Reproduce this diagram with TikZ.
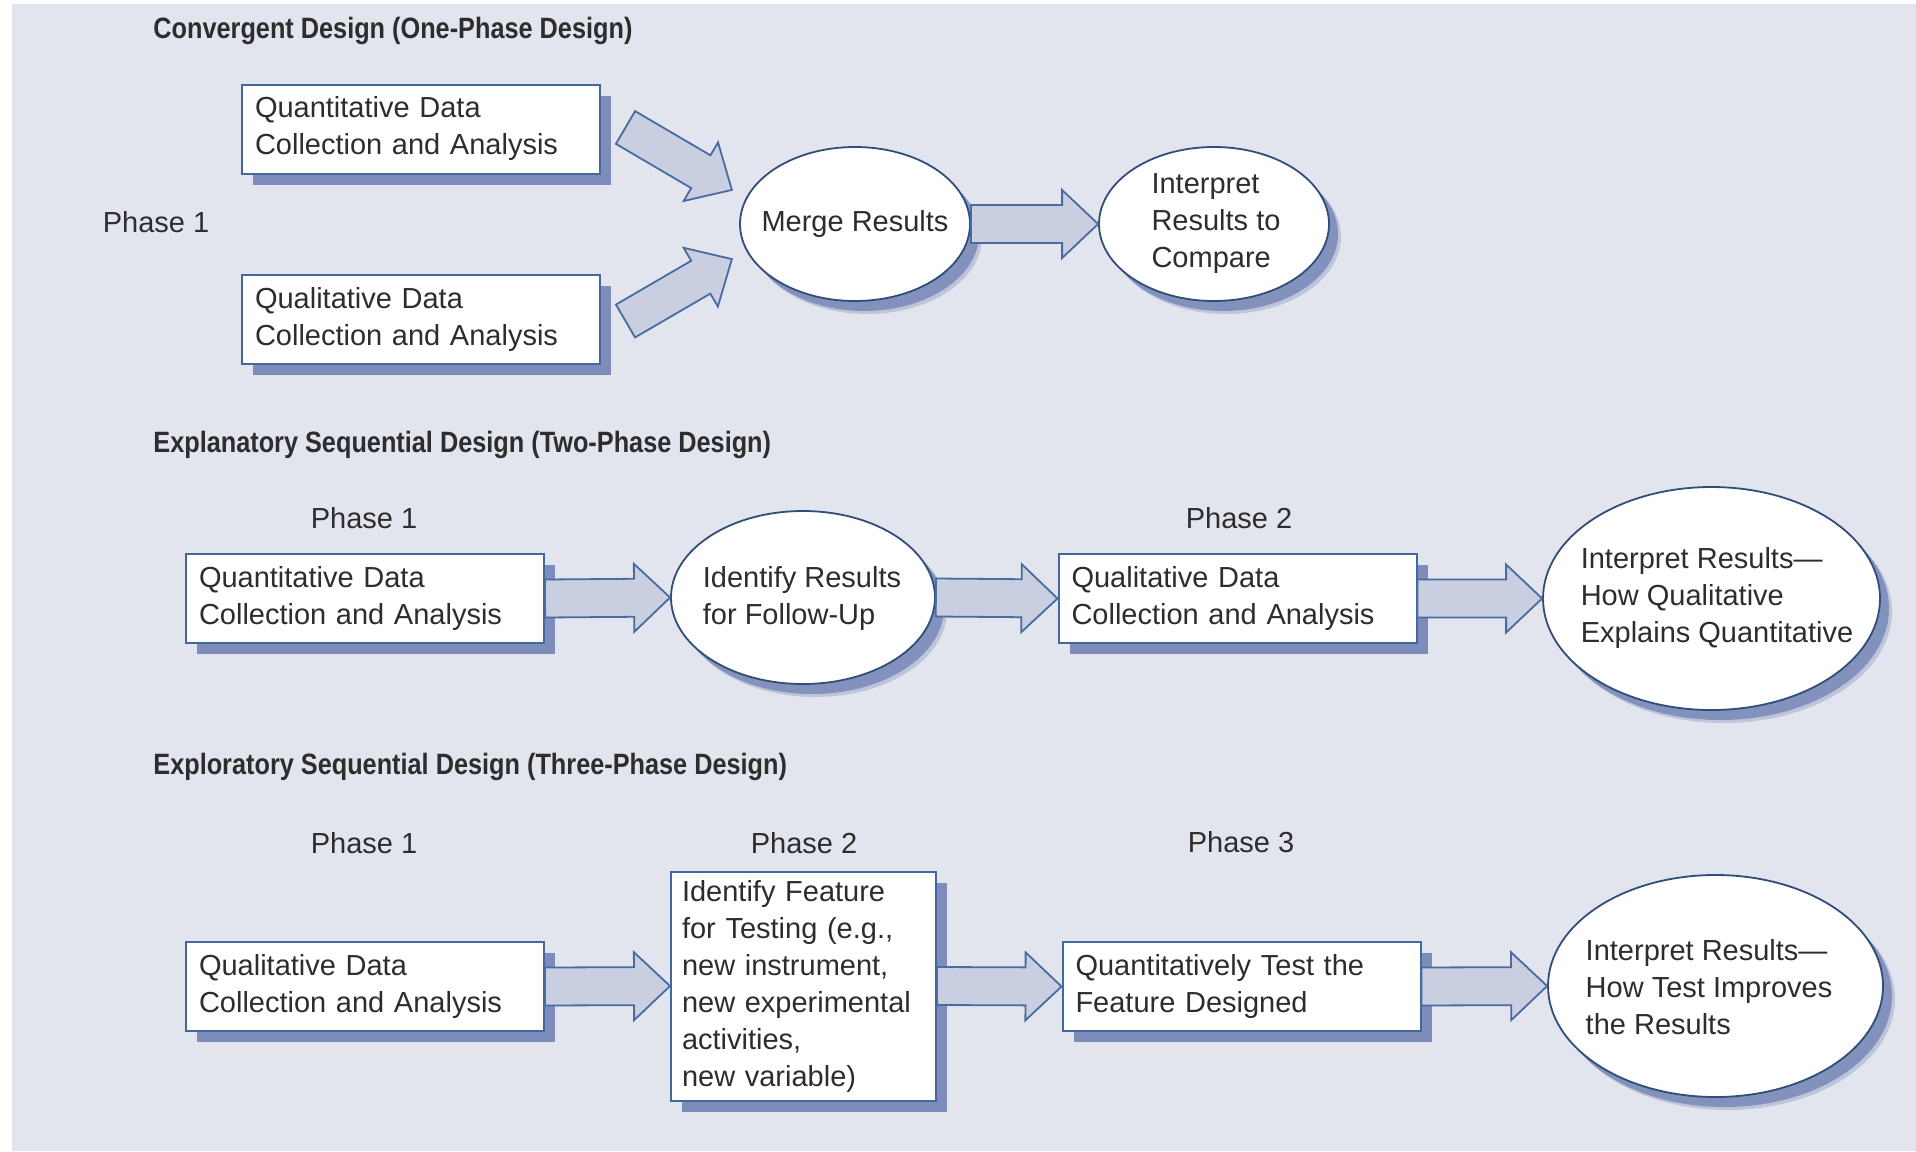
\documentclass[tikz,border=0pt]{standalone}
\usepackage{fontspec}
\setmainfont{Liberation Sans}
\newfontfamily\titlefont{Liberation Sans}[FakeStretch=0.86]
\usetikzlibrary{shapes.geometric,calc,shadows}
\definecolor{bgc}{RGB}{226,229,238}
\definecolor{boxc}{RGB}{66,104,156}
\definecolor{ellc}{RGB}{48,78,120}
\definecolor{shadowc}{RGB}{125,140,186}
\definecolor{arrfill}{RGB}{201,206,225}
\definecolor{arrline}{RGB}{72,108,160}
\definecolor{textc}{RGB}{45,45,45}
\tikzset{
  every node/.style={text=textc, font=\fontsize{14.5pt}{18.5pt}\selectfont},
  titlesty/.style={anchor=west, inner sep=0pt, font=\titlefont\fontsize{14.7pt}{17pt}\selectfont\bfseries},
  phaselbl/.style={inner sep=0pt},
  boxsty/.style={rectangle, draw=boxc, line width=1pt, fill=white, align=left,
    inner xsep=6.5pt, inner ysep=0pt, text width=166pt, minimum height=44.5pt,
    drop shadow={shadow xshift=5.5pt, shadow yshift=-5.5pt, opacity=1, fill=shadowc, draw=none}},
  ellsty/.style={ellipse, draw=ellc, line width=0.9pt, fill=white, inner sep=0pt,
    drop shadow={shadow xshift=6pt, shadow yshift=-6.5pt, opacity=0.35, fill=shadowc, draw=none},
    drop shadow={shadow xshift=4.5pt, shadow yshift=-5pt, opacity=0.9, fill=shadowc, draw=none}},
  etext/.style={align=left, inner sep=0pt},
  barrowsty/.style={draw=arrline, line width=0.9pt, fill=arrfill, line join=miter}
}
\newcommand\barrow[2]{%
  \path let \p1=(#1), \p2=(#2) in \pgfextra{%
    \pgfmathsetmacro\baAngT{atan2(\y2-\y1,\x2-\x1)}%
    \pgfmathsetmacro\baLenT{veclen(\x2-\x1,\y2-\y1)}%
    \xdef\baAng{\baAngT}\xdef\baLen{\baLenT}\xdef\baX{\x1}\xdef\baY{\y1}};
  \draw[barrowsty, shift={(\baX,\baY)}, rotate=\baAng]
    (0pt,-9.5pt) -- ({\baLen pt-18pt},-9.5pt) -- ({\baLen pt-18pt},-17pt) -- (\baLen pt,0pt)
    -- ({\baLen pt-18pt},17pt) -- ({\baLen pt-18pt},9.5pt) -- (0pt,9.5pt) -- cycle;}
\begin{document}
\begin{tikzpicture}[x=0.5pt,y=-0.5pt]
\useasboundingbox (0,0) rectangle (1916,1151);
\fill[white] (0,0) rectangle (1916,1151);
\fill[bgc] (12,4) rectangle (1916,1151);

% ---------- Convergent design ----------
\node[titlesty] (t1) at (153,31) {Convergent Design (One-Phase Design)};
\node[phaselbl] (p11) at (156,222) {Phase 1};
\node[boxsty] (q1) at (421,129) {Quantitative Data\\Collection and Analysis};
\node[boxsty] (l1) at (421,319) {Qualitative Data\\Collection and Analysis};
\node[ellsty, minimum width=115pt, minimum height=77pt] (merge) at (855,224) {};
\node[etext] (merget) at (merge.center) {Merge Results};
\node[ellsty, minimum width=115pt, minimum height=77pt] (int1) at (1214,224) {};
\node[etext] (int1t) at (1216,223.5) {Interpret\\Results to\\Compare};
\coordinate (a1s) at (625.5,127.5);
\coordinate (a1e) at (732,190);
\coordinate (a2s) at (625.5,321);
\coordinate (a2e) at (732,259);
\barrow{a1s}{a1e}
\barrow{a2s}{a2e}
\barrow{merge.east}{int1.west}

% ---------- Explanatory sequential ----------
\node[titlesty] (t2) at (153,445) {Explanatory Sequential Design (Two-Phase Design)};
\node[phaselbl] (p21) at (364,518) {Phase 1};
\node[phaselbl] (p22) at (1239,518) {Phase 2};
\node[boxsty] (q2) at (365,598.5) {Quantitative Data\\Collection and Analysis};
\node[ellsty, minimum width=132pt, minimum height=86.5pt] (id2) at (803,597.5) {};
\node[etext] (id2t) at (802,598) {Identify Results\\for Follow-Up};
\node[boxsty] (l2) at (1237.5,598.5) {Qualitative Data\\Collection and Analysis};
\node[ellsty, minimum width=168.5pt, minimum height=111.5pt] (int2) at (1711.5,598.5) {};
\node[etext] (int2t) at (1717,598) {Interpret Results—\\How Qualitative\\Explains Quantitative};
\barrow{q2.east}{id2.west}
\barrow{id2.east}{l2.west}
\barrow{l2.east}{int2.west}

% ---------- Exploratory sequential ----------
\node[titlesty] (t3) at (153,767) {Exploratory Sequential Design (Three-Phase Design)};
\node[phaselbl] (p31) at (364,843) {Phase 1};
\node[phaselbl] (p32) at (804,843) {Phase 2};
\node[phaselbl] (p33) at (1241,842) {Phase 3};
\node[boxsty] (l3) at (365,986.5) {Qualitative Data\\Collection and Analysis};
\node[boxsty, text width=121.5pt, inner xsep=5.5pt, minimum height=114.5pt] (feat) at (803.5,986)
  {Identify Feature\\for Testing (e.g.,\\new instrument,\\new experimental\\activities,\\new variable)};
\node[boxsty] (q3) at (1241.5,986.5) {Quantitatively Test the\\Feature Designed};
\node[ellsty, minimum width=167.5pt, minimum height=111pt] (int3) at (1715.5,986) {};
\node[etext] (int3t) at (1709,987.5) {Interpret Results—\\How Test Improves\\the Results};
\barrow{l3.east}{feat.west}
\barrow{feat.east}{q3.west}
\barrow{q3.east}{int3.west}
\end{tikzpicture}
\end{document}
